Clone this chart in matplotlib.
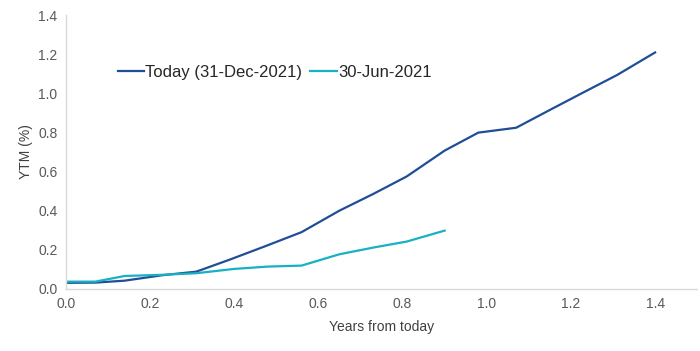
import matplotlib.pyplot as plt
from matplotlib.ticker import FormatStrFormatter

plt.rcParams['font.family'] = ['Liberation Sans', 'DejaVu Sans']

# Data
today_x = [0.0, 0.07, 0.14, 0.23, 0.31, 0.39, 0.47, 0.56, 0.65, 0.73, 0.81,
           0.90, 0.98, 1.07, 1.15, 1.23, 1.31, 1.40]
today_y = [0.031, 0.032, 0.042, 0.070, 0.088, 0.150, 0.215, 0.290, 0.400, 0.485,
           0.575, 0.707, 0.799, 0.824, 0.915, 1.005, 1.094, 1.209]
jun_x = [0.0, 0.07, 0.14, 0.23, 0.31, 0.40, 0.48, 0.56, 0.65, 0.73, 0.81, 0.90]
jun_y = [0.037, 0.037, 0.066, 0.072, 0.080, 0.102, 0.114, 0.119, 0.177, 0.211,
         0.242, 0.298]
x_ticks = [0.0, 0.2, 0.4, 0.6, 0.8, 1.0, 1.2, 1.4]
y_ticks = [0.0, 0.2, 0.4, 0.6, 0.8, 1.0, 1.2, 1.4]

fig = plt.figure(figsize=(7.0, 3.51), dpi=100)
ax = fig.add_axes([0.094, 0.177, 0.902, 0.78])

ax.plot(today_x, today_y, color='#1f4e96', lw=1.6, label='Today (31-Dec-2021)')
ax.plot(jun_x, jun_y, color='#17b1c3', lw=1.6, label='30-Jun-2021')

ax.set_xlim(0, 1.5)
ax.set_ylim(0, 1.4)
ax.set_xticks(x_ticks)
ax.set_yticks(y_ticks)
ax.xaxis.set_major_formatter(FormatStrFormatter('%.1f'))
ax.yaxis.set_major_formatter(FormatStrFormatter('%.1f'))
ax.tick_params(length=0, labelsize=10, labelcolor='#595959', pad=6)

for side in ['top', 'right']:
    ax.spines[side].set_visible(False)
for side in ['left', 'bottom']:
    ax.spines[side].set_color('#d9d9d9')
    ax.spines[side].set_linewidth(1)

ax.set_xlabel('Years from today', fontsize=10, color='#404040', labelpad=6)
ax.set_ylabel('YTM (%)', fontsize=10, color='#404040', labelpad=4)

leg = ax.legend(loc='center left', bbox_to_anchor=(0.082, 0.792), ncol=2,
                frameon=False, fontsize=12, handlelength=1.6, handletextpad=0.05,
                columnspacing=0.5, borderaxespad=0, borderpad=0)
for t in leg.get_texts():
    t.set_color('#262626')

fig.savefig('out.png', dpi=100)
